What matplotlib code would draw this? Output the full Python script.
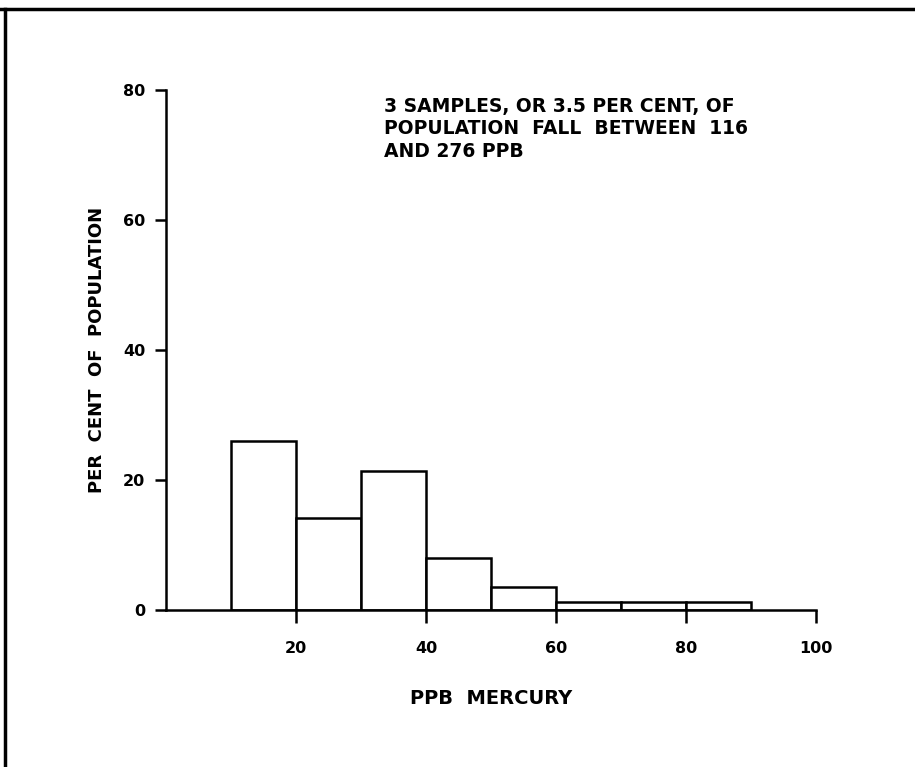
import matplotlib.pyplot as plt
from matplotlib.lines import Line2D

plt.rcParams['font.family'] = ['DejaVu Sans']
plt.rcParams['font.weight'] = 'bold'

bin_left = [10, 20, 30, 40, 50, 60, 70, 80]
bin_width = 10
percent = [26.0, 14.2, 21.4, 8.0, 3.5, 1.2, 1.2, 1.2]

x_ticks = [20, 40, 60, 80, 100]
y_ticks = [0, 20, 40, 60, 80]

note = ('3 SAMPLES, OR 3.5 PER CENT, OF\n'
        'POPULATION  FALL  BETWEEN  116\n'
        'AND 276 PPB')

fig = plt.figure(figsize=(9.15, 7.67), dpi=100)
ax = fig.add_axes([166 / 915, 157 / 767, 650 / 915, 520 / 767])

ax.bar(bin_left, percent, width=bin_width, align='edge',
       facecolor='white', edgecolor='black', linewidth=1.8)

ax.set_xlim(0, 100)
ax.set_ylim(0, 80)
ax.set_xticks(x_ticks)
ax.set_yticks(y_ticks)
ax.tick_params(axis='both', direction='out', width=1.8, labelsize=11.5, color='black')
ax.tick_params(axis='x', length=9.4, pad=13)
ax.tick_params(axis='y', length=7.9, pad=7)
for lab in ax.get_xticklabels() + ax.get_yticklabels():
    lab.set_fontweight('bold')

for s in ['top', 'right']:
    ax.spines[s].set_visible(False)
for s in ['left', 'bottom']:
    ax.spines[s].set_linewidth(1.8)

ax.set_xlabel('PPB  MERCURY', fontsize=14, fontweight='bold', labelpad=24)
ax.set_ylabel('PER  CENT  OF  POPULATION', fontsize=13, fontweight='bold', labelpad=12)

fig.text(384 / 915, 1 - 97 / 767, note, fontsize=13.5, fontweight='bold',
         va='top', ha='left', linespacing=1.22)

# page frame (top and left edges)
fig.add_artist(Line2D([0, 1], [1 - 9 / 767, 1 - 9 / 767], color='black', linewidth=2.5))
fig.add_artist(Line2D([5 / 915, 5 / 915], [0, 1 - 9 / 767], color='black', linewidth=2.5))

fig.savefig('out.png', dpi=100)
